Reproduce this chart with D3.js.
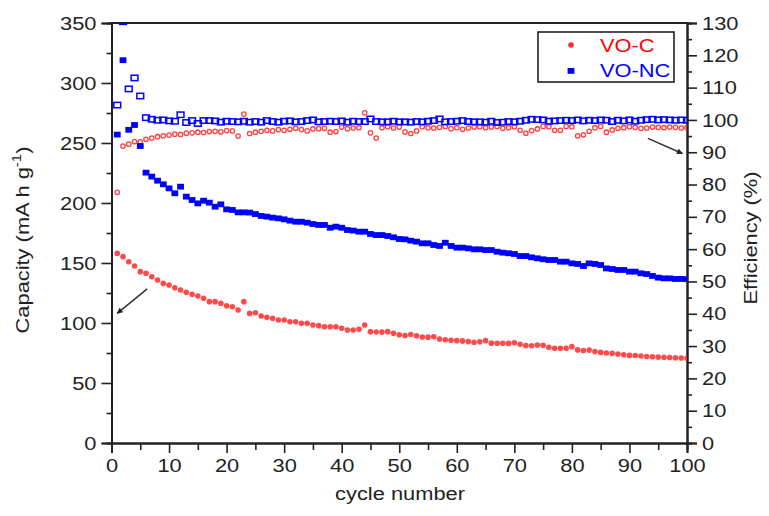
<!DOCTYPE html>
<meta charset="utf-8">
<style>
body { margin: 0; background: #fff; }
svg { font-family: "Liberation Sans", Arial, sans-serif; }
.axis path, .axis line { stroke: #222; }
</style>
<body>
<svg id="chart" width="769" height="516"></svg>
<script src="https://d3js.org/d3.v7.min.js"></script>
<script>
// cycles 1..100
var cycles = d3.range(1, 101);

// VO-C capacity (mA h g-1), left axis
var capC = [158, 155.3, 151, 147.5, 142.8, 141.4, 138.6, 135.8, 133, 131.7,
  129.4, 127.5, 125.6, 123.9, 122.5, 120.6, 117.8, 117.8, 116.4, 114.4,
  113.6, 110.8, 117.8, 108, 108.6, 105.8, 104.7, 103.9, 102.5, 102.5,
  101.1, 101.1, 99.7, 99.7, 98.3, 97.8, 96.9, 96.9, 96.9, 95.6,
  94.2, 94.2, 94.7, 98.3, 92.8, 92.5, 92.4, 92.8, 91.5, 90.2,
  89.6, 90.4, 89.3, 88.3, 88.2, 88.6, 86.6, 86.0, 85.6, 85.3,
  85.1, 84.5, 84.0, 84.3, 85.3, 83.2, 83.1, 83.1, 83.0, 83.6,
  82.2, 81.2, 81.1, 81.7, 81.5, 79.8, 79.0, 78.9, 79.0, 80.3,
  77.6, 77.0, 77.4, 76.3, 75.5, 75.0, 74.8, 74.1, 73.5, 73.0,
  72.9, 72.5, 72.1, 71.9, 71.6, 71.4, 71.2, 71.0, 70.8, 70.6];

// VO-NC capacity (mA h g-1), left axis
var capNC = [257, 319, 261, 265, 247.5, 225.3, 222, 218.6, 215.6, 212.2,
  208.1, 213.6, 205.3, 202.5, 199.7, 201.9, 200.3, 196.9, 198.9, 194.7,
  194.2, 192.2, 192.2, 192, 190.8, 189.2, 188.6, 187.8, 187.2, 186.4,
  185.3, 184.4, 184.4, 183.6, 182.5, 181.7, 181.7, 179.4, 180.3, 179.4,
  177.5, 177, 176.1, 176.1, 174.2, 173.3, 173.3, 172.5, 171.4, 170,
  169.7, 168.6, 167.8, 166.4, 166.4, 165, 164.2, 166.9, 164.2, 162.8,
  162.8, 162.2, 161.4, 161.4, 160.8, 160.8, 159.4, 158.6, 158.1, 157.5,
  155.8, 155.8, 154.7, 153.9, 153.1, 152.5, 152.5, 151.1, 151.1, 149.7,
  149.2, 147.5, 149.7, 149.2, 148.3, 145.5, 145, 144.2, 144.2, 142.8,
  142.8, 141.4, 140.8, 139.2, 137.8, 137.2, 137.2, 136.7, 136.7, 136.5];

// VO-C efficiency (%), right axis
var effC = [77.6, 91.9, 92.5, 93.3, 93.2, 94.0, 94.4, 94.8, 95.1, 95.3,
  95.6, 95.5, 95.9, 96.0, 96.2, 96.1, 96.4, 96.5, 96.3, 96.7,
  96.6, 95.0, 101.8, 95.8, 96.2, 96.5, 96.8, 96.6, 97.0, 96.8,
  97.1, 97.4, 97.0, 96.6, 97.2, 97.3, 97.4, 96.2, 96.4, 97.8,
  97.3, 97.5, 97.6, 102.2, 96.0, 94.4, 97.6, 97.9, 97.5, 97.8,
  96.3, 95.8, 96.6, 97.9, 97.6, 97.5, 97.7, 98.0, 97.3, 97.6,
  97.1, 97.5, 97.8, 97.9, 97.6, 97.8, 98.0, 97.4, 97.6, 97.9,
  96.8, 95.9, 96.7, 97.2, 98.0, 97.9, 96.8, 96.8, 98.0, 97.9,
  95.1, 95.4, 96.5, 97.6, 98.0, 96.2, 96.9, 97.4, 97.6, 97.9,
  97.7, 97.4, 97.5, 97.8, 97.7, 97.6, 97.8, 97.7, 97.5, 97.6];

// VO-NC efficiency (%), right axis (cycle 2 is off the top of the scale)
var effNC = [104.6, 130.4, 109.6, 113.0, 107.4, 100.7, 100.2, 99.9, 100.0, 99.7,
  99.6, 101.6, 99.2, 99.8, 98.9, 99.8, 99.8, 99.7, 99.3, 99.6,
  99.5, 99.4, 99.6, 99.3, 99.5, 99.3, 99.8, 99.5, 99.3, 99.6,
  99.7, 99.4, 99.5, 99.8, 100.0, 99.4, 99.5, 99.6, 99.5, 99.7,
  99.3, 99.6, 99.5, 99.5, 100.3, 99.5, 99.4, 99.4, 99.6, 99.4,
  99.4, 99.3, 99.5, 99.4, 99.6, 99.8, 100.3, 99.4, 99.5, 99.6,
  99.8, 99.5, 99.4, 99.4, 99.3, 99.6, 99.2, 99.3, 99.5, 99.4,
  99.6, 99.9, 100.2, 100.1, 100.0, 99.6, 99.7, 99.8, 99.9, 99.8,
  100.0, 99.7, 99.9, 99.8, 100.0, 99.9, 99.5, 99.9, 99.7, 100.0,
  99.6, 99.9, 100.1, 100.2, 100.0, 100.1, 100.0, 99.9, 100.0, 99.9];

var xTicks = d3.range(0, 101, 10);
var capTicks = d3.range(0, 351, 50);
var effTicks = d3.range(0, 131, 10);

var svg = d3.select("#chart");
// plot box (avoid the name "top", it is window.top)
var pL = 111.5, pR = 687, pT = 23, pB = 443;
var sx = 1.15; // glyphs are a little wide in the original
var fs = 19;

var x = d3.scaleLinear().domain([0, 100]).range([pL, pR]);
var yL = d3.scaleLinear().domain([0, 350]).range([pB, pT]);
var yR = d3.scaleLinear().domain([0, 130]).range([pB, pT]);

svg.append("clipPath").attr("id", "clip").append("rect")
  .attr("x", pL).attr("y", pT).attr("width", pR - pL).attr("height", pB - pT);

function styleAxis(g) {
  g.attr("class", "axis");
  g.select(".domain").attr("stroke-width", 2);
  g.selectAll("line").attr("stroke-width", 1.6);
  g.selectAll("text").attr("fill", "#222").attr("font-size", fs)
    .attr("font-family", "Liberation Sans, Arial, sans-serif");
}

// minor ticks
svg.append("g").attr("transform", "translate(0," + pB + ")")
  .call(d3.axisBottom(x).tickValues(d3.range(5, 100, 10)).tickSize(7).tickFormat(""))
  .call(styleAxis);
svg.append("g").attr("transform", "translate(" + pL + ",0)")
  .call(d3.axisLeft(yL).tickValues(d3.range(25, 350, 50)).tickSize(5).tickFormat(""))
  .call(styleAxis);
svg.append("g").attr("transform", "translate(" + pR + ",0)")
  .call(d3.axisRight(yR).tickValues(d3.range(5, 130, 10)).tickSize(5).tickFormat(""))
  .call(styleAxis);

// major ticks
var gx = svg.append("g").attr("transform", "translate(0," + pB + ")")
  .call(d3.axisBottom(x).tickValues(xTicks).tickSize(10).tickPadding(6))
  .call(styleAxis);
gx.selectAll("text").attr("transform", "scale(" + sx + ",1)");

var gl = svg.append("g").attr("transform", "translate(" + pL + ",0)")
  .call(d3.axisLeft(yL).tickValues(capTicks).tickSize(10).tickPadding(5))
  .call(styleAxis);
gl.selectAll("text").attr("x", -15 / sx).attr("transform", "scale(" + sx + ",1)");

var gr = svg.append("g").attr("transform", "translate(" + pR + ",0)")
  .call(d3.axisRight(yR).tickValues(effTicks).tickSize(10).tickPadding(5))
  .call(styleAxis);
gr.selectAll("text").attr("x", 15 / sx).attr("transform", "scale(" + sx + ",1)");

// top frame
svg.append("line").attr("x1", pL - 1).attr("x2", pR + 1).attr("y1", pT).attr("y2", pT)
  .attr("stroke", "#222").attr("stroke-width", 2);

// data
var plot = svg.append("g").attr("clip-path", "url(#clip)");

plot.selectAll(".effC").data(cycles).enter().append("circle")
  .attr("cx", function(d) { return x(d); })
  .attr("cy", function(d, i) { return yR(effC[i]); })
  .attr("r", 2.2).attr("fill", "none").attr("stroke", "#ff4040").attr("stroke-width", 1.3);

plot.selectAll(".effNC").data(cycles).enter().append("rect")
  .attr("x", function(d) { return x(d) - 3.4; })
  .attr("y", function(d, i) { return yR(effNC[i]) - 2.7; })
  .attr("width", 6.8).attr("height", 5.4)
  .attr("fill", "none").attr("stroke", "#0000ff").attr("stroke-width", 1.5);

plot.selectAll(".capC").data(cycles).enter().append("circle")
  .attr("cx", function(d) { return x(d); })
  .attr("cy", function(d, i) { return yL(capC[i]); })
  .attr("r", 2.8).attr("fill", "#ff2a2a").attr("opacity", 0.85);

plot.selectAll(".capNC").data(cycles).enter().append("rect")
  .attr("x", function(d) { return x(d) - 3.4; })
  .attr("y", function(d, i) { return yL(capNC[i]) - 2.9; })
  .attr("width", 6.8).attr("height", 5.8).attr("fill", "#0000ff");

// arrows
var defs = svg.append("defs");
defs.append("marker").attr("id", "head").attr("viewBox", "0 0 10 10")
  .attr("refX", 9).attr("refY", 5).attr("markerWidth", 7).attr("markerHeight", 6)
  .attr("orient", "auto").attr("markerUnits", "userSpaceOnUse")
  .append("path").attr("d", "M0,0L10,5L0,10z").attr("fill", "#222");
svg.append("line").attr("x1", x(6.2)).attr("y1", yL(128.5)).attr("x2", x(1)).attr("y2", yL(108))
  .attr("stroke", "#333").attr("stroke-width", 1.5).attr("marker-end", "url(#head)");
svg.append("line").attr("x1", x(93.2)).attr("y1", yR(94.3)).attr("x2", x(99.2)).attr("y2", yR(89.6))
  .attr("stroke", "#333").attr("stroke-width", 1.5).attr("marker-end", "url(#head)");

// legend
var lg = svg.append("g");
lg.append("rect").attr("x", 538).attr("y", 32).attr("width", 136).attr("height", 50)
  .attr("fill", "#fff").attr("stroke", "#222").attr("stroke-width", 1.6);
lg.append("circle").attr("cx", 571).attr("cy", 45).attr("r", 2.8).attr("fill", "#ff2a2a");
lg.append("rect").attr("x", 567.6).attr("y", 68).attr("width", 6.8).attr("height", 5.8).attr("fill", "#0000ff");
lg.append("text").attr("transform", "translate(600,52) scale(" + sx + ",1)")
  .attr("font-size", fs).attr("fill", "#ff0000").text("VO-C");
lg.append("text").attr("transform", "translate(600,77) scale(" + sx + ",1)")
  .attr("font-size", fs).attr("fill", "#0000ff").text("VO-NC");

// axis titles
svg.append("text").attr("transform", "translate(400,500) scale(" + sx + ",1)")
  .attr("text-anchor", "middle").attr("font-size", fs).attr("fill", "#222").text("cycle number");

var yt = svg.append("text").attr("transform", "translate(29,240) rotate(-90) scale(" + sx + ",1)")
  .attr("text-anchor", "middle").attr("font-size", fs).attr("fill", "#222");
yt.append("tspan").text("Capacity (mA h g");
yt.append("tspan").attr("font-size", 13).attr("dy", -8).text("-1");
yt.append("tspan").attr("dy", 8).text(")");

svg.append("text").attr("transform", "translate(757,238) rotate(-90) scale(" + sx + ",1)")
  .attr("text-anchor", "middle").attr("font-size", fs).attr("fill", "#222").text("Efficiency (%)");
</script>
</body>
